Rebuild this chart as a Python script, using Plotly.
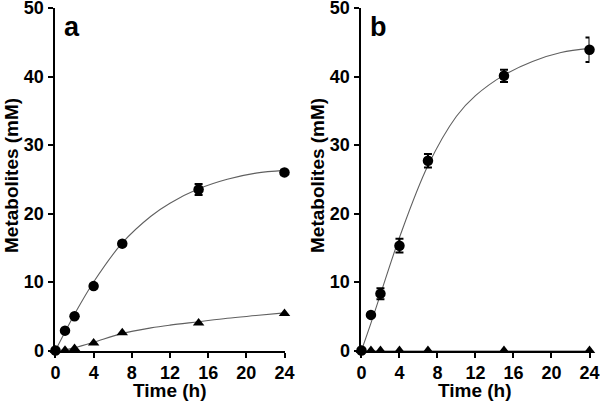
import plotly.graph_objects as go

# ---- data ----
time_h = [0, 1, 2, 4, 7, 15, 24]

a_circle = [0, 2.9, 5.0, 9.4, 15.6, 23.5, 26.0]
a_circle_err = [0, 0.1, 0.2, 0.3, 0.3, 0.8, 0.4]
a_triangle = [0, 0.05, 0.3, 1.1, 2.6, 4.0, 5.4]

b_circle = [0, 5.2, 8.3, 15.3, 27.7, 40.1, 43.9]
b_circle_err = [0, 0.3, 0.8, 1.0, 1.0, 0.9, 1.8]
b_triangle = [0, 0, 0, 0, 0, 0, 0]

# fitted curves
fit_t = [0, 1, 2, 4, 7, 10, 12, 15, 18, 21, 24]
a_circle_fit = [0, 2.7, 5.3, 10.0, 15.7, 19.6, 21.5, 23.6, 25.0, 25.9, 26.3]
a_triangle_fit = [0, 0.1, 0.4, 1.2, 2.5, 3.3, 3.7, 4.2, 4.7, 5.1, 5.5]
b_circle_fit = [0, 4.0, 8.2, 16.5, 27.0, 34.2, 37.2, 40.2, 42.2, 43.5, 44.1]
b_triangle_fit = [0, 0, 0, 0, 0, 0, 0, 0, 0, 0, 0]

x_ticks = [0, 4, 8, 12, 16, 20, 24]
y_ticks = [0, 10, 20, 30, 40, 50]
panel_labels = ["a", "b"]

W, H = 600, 404
FONT = "Liberation Sans, Arial, sans-serif"

fig = go.Figure()

def add_panel(xa, ya, circ, circ_err, tri, circ_fit, tri_fit):
    for fit in (circ_fit, tri_fit):
        fig.add_trace(go.Scatter(x=fit_t, y=fit, mode="lines",
                                 line=dict(color="#606060", width=1.1, shape="spline"),
                                 xaxis=xa, yaxis=ya, showlegend=False, hoverinfo="skip", cliponaxis=False))
    fig.add_trace(go.Scatter(x=time_h, y=tri, mode="markers",
                             marker=dict(symbol="triangle-up", size=10, color="black"),
                             xaxis=xa, yaxis=ya, showlegend=False, cliponaxis=False))
    fig.add_trace(go.Scatter(x=time_h, y=circ, mode="markers",
                             marker=dict(symbol="circle", size=10.5, color="black"),
                             error_y=dict(type="data", array=circ_err, visible=True, color="black",
                                          thickness=2, width=4),
                             xaxis=xa, yaxis=ya, showlegend=False, cliponaxis=False))

add_panel("x", "y", a_circle, a_circle_err, a_triangle, a_circle_fit, a_triangle_fit)
add_panel("x2", "y2", b_circle, b_circle_err, b_triangle, b_circle_fit, b_triangle_fit)

y_dom = [1 - 350.5 / H, 1 - 8 / H]
x_doms = [[54.5 / W, 284.5 / W], [360.5 / W, 589.5 / W]]

axis_common = dict(showgrid=False, zeroline=False, showline=True, linecolor="black", linewidth=2,
                   ticks="outside", ticklen=5, tickwidth=2, tickcolor="black", automargin=False,
                   ticklabeloverflow="allow",
                   tickfont=dict(family=FONT, size=18, color="black"))

xt_text = [f"<b>{v}</b>" for v in x_ticks]
yt_text = [f"<b>{v}</b>" for v in y_ticks]

fig.update_layout(
    template="none",
    width=W, height=H, margin=dict(l=0, r=0, t=0, b=0, pad=0),
    paper_bgcolor="white", plot_bgcolor="white",
    xaxis=dict(domain=x_doms[0], range=[-0.1, 24], tickvals=x_ticks, ticktext=xt_text, anchor="y", **axis_common),
    yaxis=dict(domain=y_dom, range=[0, 50], tickvals=y_ticks, ticktext=yt_text, anchor="x", **axis_common),
    xaxis2=dict(domain=x_doms[1], range=[-0.1, 24], tickvals=x_ticks, ticktext=xt_text, anchor="y2", **axis_common),
    yaxis2=dict(domain=y_dom, range=[0, 50], tickvals=y_ticks, ticktext=yt_text, anchor="x2", **axis_common),
)

ann = []
for i, dom in enumerate(x_doms):
    cx = (dom[0] + dom[1]) / 2
    ann.append(dict(text="<b>Time (h)</b>", x=cx, y=1 - 390.5 / H, xref="paper", yref="paper",
                    xanchor="center", yanchor="middle", showarrow=False,
                    font=dict(family=FONT, size=19, color="black")))
    ann.append(dict(text="<b>Metabolites (mM)</b>", x=(12 + 306 * i) / W, y=1 - 176 / H, xref="paper", yref="paper",
                    xanchor="center", yanchor="middle", showarrow=False, textangle=-90,
                    font=dict(family=FONT, size=19, color="black")))
    ann.append(dict(text=f"<b>{panel_labels[i]}</b>", x=(dom[0] * W + 7) / W, y=1 - 27 / H, xref="paper", yref="paper",
                    xanchor="left", yanchor="middle", showarrow=False,
                    font=dict(family=FONT, size=27, color="black")))
fig.update_layout(annotations=ann)

fig.write_html("out.html", config={"displayModeBar": False},
               post_script="document.body.style.margin='0';")
